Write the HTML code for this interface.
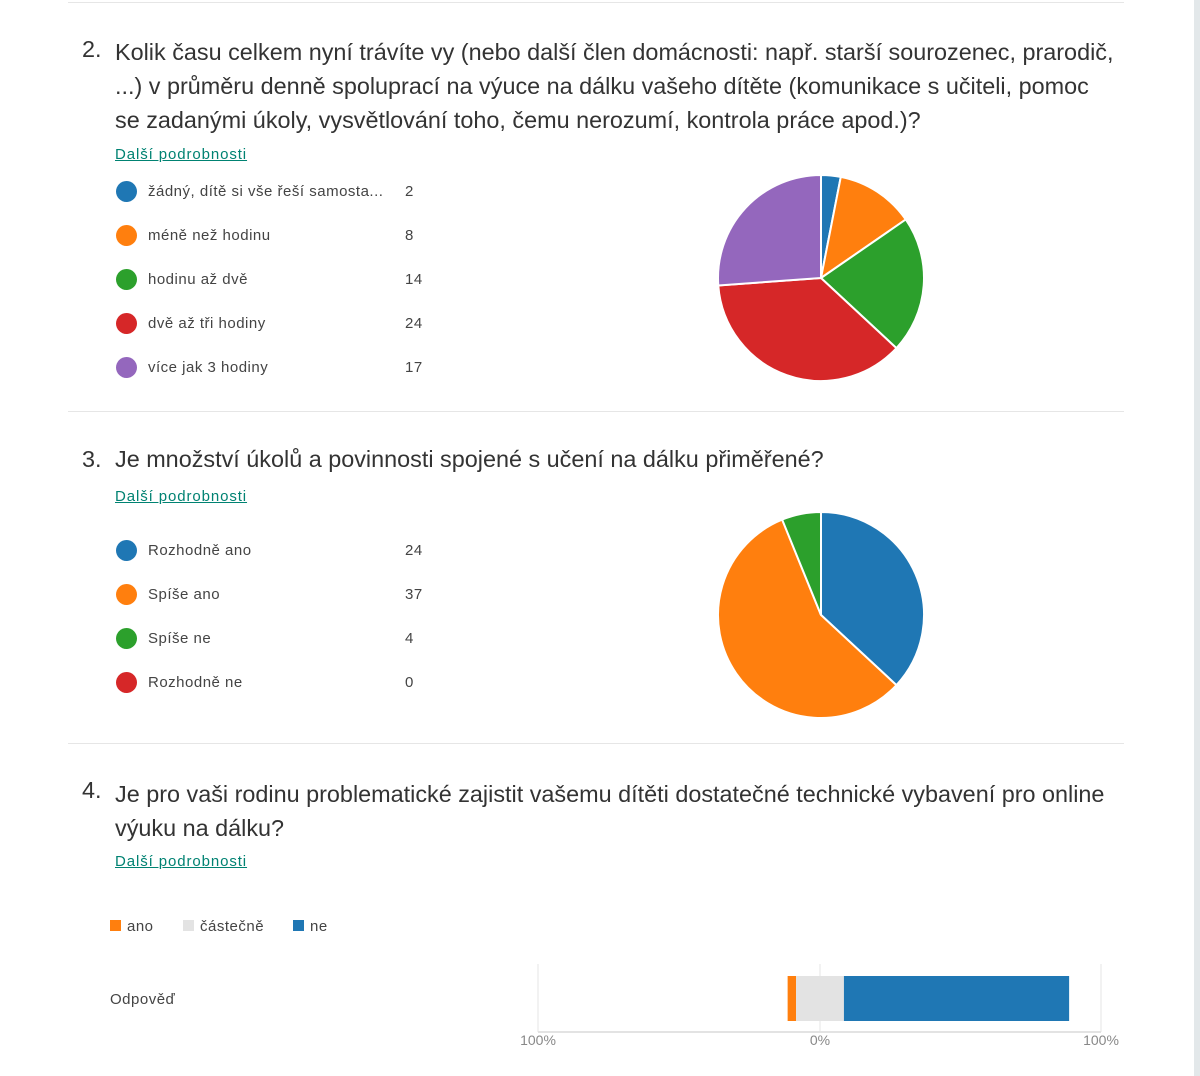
<!DOCTYPE html>
<html><head><meta charset="utf-8"><style>
body{margin:0;width:1200px;height:1076px;position:relative;background:#fff;font-family:"Liberation Sans",sans-serif;color:#333;overflow:hidden}
.a{position:absolute;white-space:nowrap}
.t{font-size:23.4px;color:#333}
.lnk{font-size:15px;color:#008272;text-decoration:underline;letter-spacing:0.9px}
.lg{font-size:15px;color:#444;letter-spacing:0.5px}
.dot{position:absolute;width:21px;height:21px;border-radius:50%}
.sep{position:absolute;left:68px;width:1056px;height:1px;background:#e6e6e6}
</style></head><body>
<div style="position:absolute;left:1194px;top:0;width:6px;height:1076px;background:#e3e8ea"></div>
<div class="sep" style="top:2px"></div>

<div class="a t" style="left:82px;top:36px">2.</div>
<div class="a t" style="left:115px;top:35px;line-height:34px">Kolik času celkem nyní trávíte vy (nebo další člen domácnosti: např. starší sourozenec, prarodič,<br>...) v průměru denně spoluprací na výuce na dálku vašeho dítěte (komunikace s učiteli, pomoc<br>se zadanými úkoly, vysvětlování toho, čemu nerozumí, kontrola práce apod.)?</div>
<div class="a lnk" style="left:115px;top:146px">Další podrobnosti</div>
<div id="leg2"></div>
<svg id="pie2" style="position:absolute;left:0;top:0" width="1200" height="1076"></svg>

<div class="sep" style="top:411px"></div>
<div class="a t" style="left:82px;top:446px">3.</div>
<div class="a t" style="left:115px;top:446px">Je množství úkolů a povinnosti spojené s učení na dálku přiměřené?</div>
<div class="a lnk" style="left:115px;top:488px">Další podrobnosti</div>

<div class="sep" style="top:743px"></div>
<div class="a t" style="left:82px;top:777px">4.</div>
<div class="a t" style="left:115px;top:777px;line-height:34px">Je pro vaši rodinu problematické zajistit vašemu dítěti dostatečné technické vybavení pro online<br>výuku na dálku?</div>
<div class="a lnk" style="left:115px;top:853px">Další podrobnosti</div>

<div class="a lg" style="left:110px;top:918px"><span style="display:inline-block;width:11px;height:11px;background:#ff7f0e;margin-right:6px"></span>ano</div>
<div class="a lg" style="left:183px;top:918px"><span style="display:inline-block;width:11px;height:11px;background:#e3e3e3;margin-right:6px"></span>částečně</div>
<div class="a lg" style="left:293px;top:918px"><span style="display:inline-block;width:11px;height:11px;background:#1f77b4;margin-right:6px"></span>ne</div>
<div class="a lg" style="left:110px;top:991px">Odpověď</div>

<script>
const q2Labels=["žádný, dítě si vše řeší samosta...","méně než hodinu","hodinu až dvě","dvě až tři hodiny","více jak 3 hodiny"];
const q2Values=[2,8,14,24,17];
const q3Labels=["Rozhodně ano","Spíše ano","Spíše ne","Rozhodně ne"];
const q3Values=[24,37,4,0];
const colors=["#1f77b4","#ff7f0e","#2ca02c","#d62728","#9467bd"];
const q4Categories=["ano","částečně","ne"];
const q4Values=[3,17,80];
const axisTicks=["100%","0%","100%"];

const NS="http://www.w3.org/2000/svg";
const svg=document.getElementById('pie2');
function legend(labels,values,top,prefix){
  labels.forEach((l,i)=>{
    const y=top+i*44;
    const d=document.createElement('div');d.className='dot';
    
    
    d.style.left='116px';d.style.top=(y-10)+'px';d.style.background=colors[i];document.body.appendChild(d);
    const t=document.createElement('div');t.className='a lg';
    
    
    t.style.left='148px';t.style.top=(y-8)+'px';t.textContent=l;document.body.appendChild(t);
    const c=document.createElement('div');c.className='a lg';
    
    
    c.style.left='405px';c.style.top=(y-8)+'px';c.textContent=values[i];document.body.appendChild(c);
  });
}
function pie(values,cx,cy,r){
  const tot=values.reduce((a,b)=>a+b,0);let a0=0;
  values.forEach((v,i)=>{
    if(v<=0)return;
    const a1=a0+v/tot*2*Math.PI;
    const x0=cx+r*Math.sin(a0),y0=cy-r*Math.cos(a0),x1=cx+r*Math.sin(a1),y1=cy-r*Math.cos(a1);
    const p=document.createElementNS(NS,'path');
    
    
    p.setAttribute('d',`M${cx},${cy}L${x0},${y0}A${r},${r} 0 ${a1-a0>Math.PI?1:0} 1 ${x1},${y1}Z`);
    p.setAttribute('fill',colors[i]);p.setAttribute('stroke','#fff');p.setAttribute('stroke-width','2');
    svg.appendChild(p);a0=a1;
  });
}
legend(q2Labels,q2Values,191,'q2');
legend(q3Labels,q3Values,550,'q3');
pie(q2Values,821,278,103);
pie(q3Values,821,615,103);

const x0=820,pxPer=(1101-538)/200;
const xs=p=>x0+p*pxPer;
[538,820,1101].forEach((gx,i)=>{
  const l=document.createElementNS(NS,'line');
  
  
  l.setAttribute('x1',gx);l.setAttribute('x2',gx);l.setAttribute('y1',964);l.setAttribute('y2',1032);
  l.setAttribute('stroke','#e6e6e6');svg.appendChild(l);
  const t=document.createElementNS(NS,'text');
  
  
  t.setAttribute('x',gx);t.setAttribute('y',1045);t.setAttribute('text-anchor','middle');
  t.setAttribute('font-size','14');t.setAttribute('fill','#888');t.setAttribute('font-family','Liberation Sans, sans-serif');
  t.textContent=axisTicks[i];svg.appendChild(t);
});
const base=document.createElementNS(NS,'line');


base.setAttribute('x1',538);base.setAttribute('x2',1101);base.setAttribute('y1',1032);base.setAttribute('y2',1032);base.setAttribute('stroke','#e3e3e3');base.setAttribute('stroke-width','2');svg.appendChild(base);
const half=q4Values[1]/2;
const segs=[[-half-q4Values[0],-half,'#ff7f0e'],[-half,half,'#e3e3e3'],[half,half+q4Values[2],'#1f77b4']];
segs.forEach(s=>{
  const r=document.createElementNS(NS,'rect');
  
  
  r.setAttribute('x',xs(s[0]));r.setAttribute('width',xs(s[1])-xs(s[0]));r.setAttribute('y',976);r.setAttribute('height',45);r.setAttribute('fill',s[2]);
  svg.appendChild(r);
});
</script>
</body></html>
